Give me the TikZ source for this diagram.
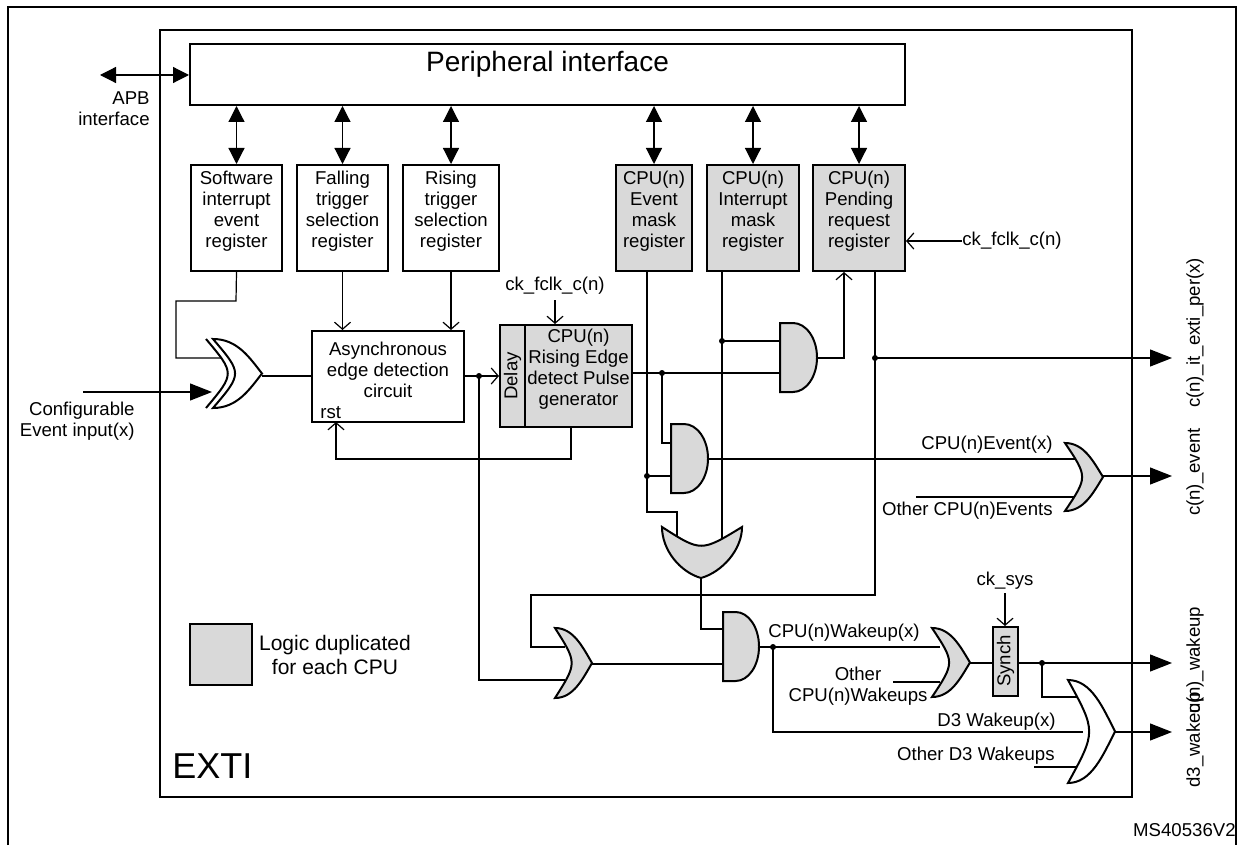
\documentclass[tikz,border=0pt]{standalone}
\usepackage{fontspec}
\setmainfont{Liberation Sans}
\usetikzlibrary{arrows.meta,fit}
\definecolor{lg}{HTML}{D9D9D9}
\newcommand\myand[5]{%
 \pgfmathsetmacro\gM{#1+0.35*(#2-#1)}\pgfmathsetmacro\gY{(#3+#4)/2}%
 \pgfmathsetmacro\gK{0.552*(#2-\gM)}\pgfmathsetmacro\gH{0.552*(#4-#3)/2}%
 \draw[gate,fill=#5] (#1,#3)--(#1,#4)--(\gM,#4) .. controls (\gM+\gK,#4) and (#2,\gY+\gH) .. (#2,\gY) .. controls (#2,\gY-\gH) and (\gM+\gK,#3) .. (\gM,#3) -- cycle;}
\newcommand\myor[5]{%
 \pgfmathsetmacro\gY{(#3+#4)/2}\pgfmathsetmacro\gW{#2-#1}\pgfmathsetmacro\gH{(#4-#3)/2}%
 \draw[gate,fill=#5] (#1,#3) .. controls (#1+0.5*\gW,#3) and (#2-0.25*\gW,\gY-0.45*\gH) .. (#2,\gY) .. controls (#2-0.25*\gW,\gY+0.45*\gH) and (#1+0.5*\gW,#4) .. (#1,#4) .. controls (#1+0.6*\gW,\gY) .. (#1,#3) -- cycle;}
\tikzset{
 box/.style={draw,line width=1pt,inner sep=0pt,align=center,font=\fontsize{9.3}{10.5}\selectfont},
 gbox/.style={box,fill=lg},
 wire/.style={line width=0.6pt},
 gate/.style={line width=1pt},
 oa/.style={wire,-{Straight Barb[length=3.5pt,width=8pt]}},
 dbl/.style={wire,{Triangle[width=8pt,length=8pt]}-{Triangle[width=8pt,length=8pt]}},
 outa/.style={wire,-{Triangle[width=8.5pt,length=11pt]}},
 lbl/.style={inner sep=0pt,font=\fontsize{9.3}{10.5}\selectfont,align=center},
 jdot/.style={circle,fill=black,inner sep=0pt,minimum size=3pt}
}
\begin{document}
\begin{tikzpicture}[x=0.5pt,y=-0.5pt]
\useasboundingbox (0,0) rectangle (1240,845);
% frames
\draw[line width=1pt] (8,845) -- (8,7) -- (1236,7) -- (1236,845);
\draw[line width=1pt] (160,30) rectangle (1132,797);
% boxes
\node[box,fit={(190,44)(905,105)},font=\fontsize{14}{16}\selectfont] (per) {Peripheral interface};
\node[box,fit={(191,165)(282,271)}] (sw) {Software\\interrupt\\event\\register};
\node[box,fit={(297,165)(388,271)}] (fal) {Falling\\trigger\\selection\\register};
\node[box,fit={(403,165)(499,271)}] (ris) {Rising\\trigger\\selection\\register};
\node[gbox,fit={(616,165)(692,271)}] (evm) {CPU(n)\\Event\\mask\\register};
\node[gbox,fit={(707,165)(799,271)}] (itm) {CPU(n)\\Interrupt\\mask\\register};
\node[gbox,fit={(813,165)(905,271)}] (pnd) {CPU(n)\\Pending\\request\\register};
\node[box,fit={(312,331)(464,422)}] (asy) {};
\node[lbl] (asyt) at (388,370) {Asynchronous\\edge detection\\circuit};
\node[lbl,anchor=base west] (rst) at (320,418) {rst};
\node[gbox,fit={(500,325)(525,427)}] (del) {};
\node[lbl,rotate=90] (delt) at (512.5,376) {Delay};
\node[gbox,fit={(525,325)(632,427)}] (pul) {CPU(n)\\Rising Edge\\detect Pulse\\generator};
\node[gbox,fit={(993,627)(1018,696)}] (syn) {};
\node[lbl,rotate=90] (synt) at (1005.5,661) {Synch};
\node[gbox,fit={(190,624)(252,685)}] (leg) {};
\node[lbl,font=\fontsize{10.5}{12}\selectfont] (legt) at (335,655) {Logic duplicated\\for each CPU};
\node[inner sep=0pt,anchor=base west,font=\fontsize{18}{20}\selectfont] (exti) at (172,778) {EXTI};
% labels
\node[lbl,align=right,anchor=east] (apb) at (150,109) {APB\\interface};
\node[lbl,align=right,anchor=east] (cfg) at (135,421) {Configurable\\Event input(x)};
\node[lbl] (ck1) at (555,286) {ck\_fclk\_c(n)};
\node[lbl,anchor=west] (ck2) at (962,241) {ck\_fclk\_c(n)};
\node[lbl] (cks) at (1005,581) {ck\_sys};
\node[lbl,anchor=east] (evx) at (1053,445) {CPU(n)Event(x)};
\node[lbl,anchor=east] (oev) at (1053,511) {Other CPU(n)Events};
\node[lbl] (wkx) at (844,633) {CPU(n)Wakeup(x)};
\node[lbl] (owk) at (858,686) {Other\\CPU(n)Wakeups};
\node[lbl,anchor=east] (d3x) at (1056,722) {D3 Wakeup(x)};
\node[lbl,anchor=east] (od3) at (1055,756) {Other D3 Wakeups};
\node[lbl,rotate=90] (o1) at (1195,333) {c(n)\_it\_exti\_per(x)};
\node[lbl,rotate=90] (o2) at (1195,472) {c(n)\_event};
\node[lbl,rotate=90] (o3) at (1195,660) {c(n)\_wakeup};
\node[lbl,rotate=90] (o4) at (1195,740) {d3\_wakeup};
\node[lbl,anchor=east] (ms) at (1236,830) {MS40536V2};
% coordinates
\coordinate (apbL) at (100,75);
\coordinate (cin) at (83,392);
\coordinate (xin) at (212,392);
\coordinate (d1) at (479,376);
\coordinate (d2) at (662,373);
\coordinate (d3) at (647,476);
\coordinate (d4) at (722,341);
\coordinate (d5) at (875,358);
\coordinate (d6) at (773,647);
\coordinate (d7) at (1042,663);
% double arrows
\draw[dbl] (apbL) -- (per.west |- apbL);
\draw[dbl] (per.south -| sw) -- (sw.north);
\draw[dbl] (per.south -| fal) -- (fal.north);
\draw[dbl] (per.south -| ris) -- (ris.north);
\draw[dbl] (per.south -| evm) -- (evm.north);
\draw[dbl] (per.south -| itm) -- (itm.north);
\draw[dbl] (per.south -| pnd) -- (pnd.north);
% wires
\draw[wire] (sw.south) -- (236,301) -- (176,301) -- (176,358) -- (222,358);
\draw[outa] (cin) -- (xin);
\draw[oa] (fal.south) -- (fal.south |- asy.north);
\draw[oa] (ris.south) -- (ris.south |- asy.north);
\draw[wire] (262,376) -- (asy.west |- 0,376);
\draw[oa] (asy.east |- d1) -- (del.west |- d1);
\draw[wire] (d1) -- (479,680) -- (565,680);
\draw[oa] (571,427) -- (571,459) -- (336,459) -- (336,422);
\draw[oa] (ck1.south |- 0,300) -- (ck1.south |- pul.north);
\draw[wire] (pul.east |- d2) -- (785,373);
\draw[wire] (d2) -- (662,443) -- (675,443);
\draw[wire] (evm.south -| 647,0) -- (647,512) -- (677,512) -- (677,540);
\draw[wire] (d3) -- (675,476);
\draw[wire] (itm.south -| 722,0) -- (722,545);
\draw[wire] (d4) -- (785,341);
\draw[oa] (817,358) -- (844,358) -- (pnd.south -| 844,0);
\draw[wire] (pnd.south -| d5) -- (875,595) -- (531,595) -- (531,647) -- (565,647);
\draw[outa] (d5) -- (1172,358);
\draw[oa] (ck2.west) -- (pnd.east |- ck2);
\draw[wire] (708,459) -- (1075,459);
\draw[wire] (916,497) -- (1075,497);
\draw[outa] (1103,476) -- (1172,476);
\draw[wire] (701,578) -- (701,629) -- (727,629);
\draw[wire] (592,664) -- (727,664);
\draw[wire] (759,647) -- (940,647);
\draw[wire] (d6) -- (773,732) -- (1083,732);
\draw[wire] (893,682) -- (940,682);
\draw[wire] (970,663) -- (syn.west |- 0,663);
\draw[oa] (cks.south |- 0,593) -- (cks.south |- syn.north);
\draw[outa] (syn.east |- d7) -- (1172,663);
\draw[wire] (d7) -- (1042,697) -- (1080,697);
\draw[wire] (1034,767) -- (1078,767);
\draw[outa] (1115,732) -- (1172,732);
% gates
\myor{213}{262}{339}{408}{white}
\draw[gate] (206,339) .. controls (235,373.5) .. (206,408);
\myand{780}{817}{323}{392}{lg}
\myand{671}{708}{424}{493}{lg}
\myand{723}{759}{612}{681}{lg}
\myor{555}{592}{628}{698}{lg}
\myor{932}{970}{628}{697}{lg}
\myor{1065}{1103}{443}{511}{lg}
\myor{1068}{1115}{680}{783}{white}
\draw[gate,fill=lg] (662,527) .. controls (701,552) .. (742,527) .. controls (742,550) and (722,572) .. (701,578) .. controls (680,572) and (662,550) .. (662,527) -- cycle;
% dots
\foreach \p in {d1,d2,d3,d4,d5,d6,d7} \node[jdot] at (\p) {};
\end{tikzpicture}
\end{document}
